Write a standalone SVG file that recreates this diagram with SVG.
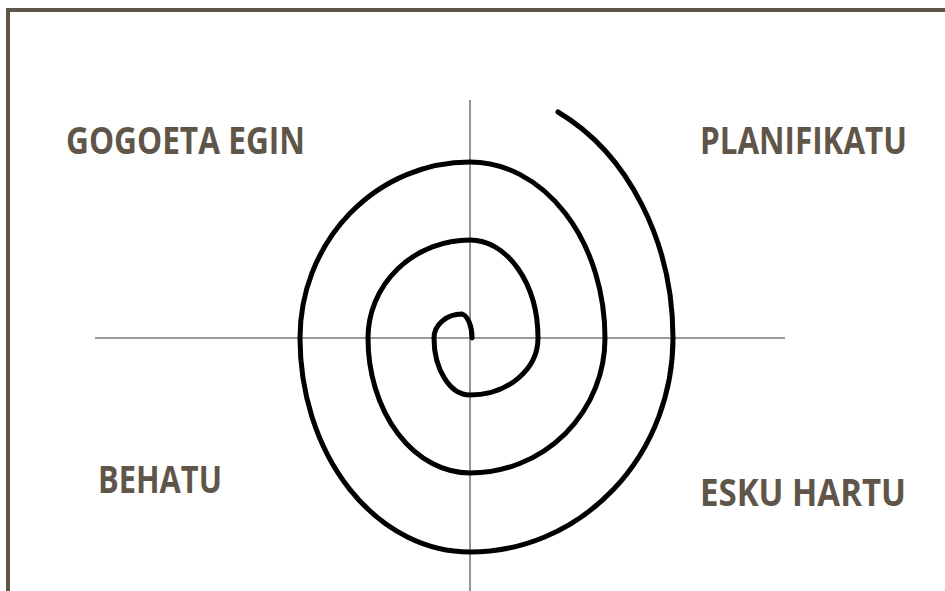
<svg xmlns="http://www.w3.org/2000/svg" width="945" height="591" viewBox="0 0 945 591">
<style>
.lbl{font-family:"Open Sans","Liberation Sans",sans-serif;font-weight:700;font-size:37px;fill:#5f5548}
.axis{stroke:#7a7a7a;stroke-width:1.6;fill:none}
.spiral{stroke:#000;stroke-width:5;fill:none;stroke-linecap:round}
</style>
<rect width="945" height="591" fill="#fff"/>
<g id="frame" fill="#5f5548">
<rect x="6" y="8" width="939" height="4"/>
<rect x="6" y="8" width="4" height="583"/>
</g>
<g id="connectors">
<line class="axis" x1="95" y1="338" x2="785" y2="338"/>
<line class="axis" x1="470" y1="100" x2="470" y2="591"/>
<path class="spiral" d="M472,338 A12,24 0 0 0 462,314 A28,24 0 0 0 434,338 A36,57 0 0 0 470,395 A68,57 0 0 0 538,338 A68,98 0 0 0 470,240 A102,98 0 0 0 368,338 A102,135 0 0 0 470,473 A135,135 0 0 0 605,338 A135,176 0 0 0 470,162 A170,176 0 0 0 300,338 A170,214 0 0 0 470,552 A203,214 0 0 0 673,338 A203,251 0 0 0 558,112"/>
</g>
<g id="node-gogoeta"><text class="lbl" x="66" y="154" textLength="239" lengthAdjust="spacingAndGlyphs">GOGOETA EGIN</text></g>
<g id="node-planifikatu"><text class="lbl" x="700" y="154" textLength="207" lengthAdjust="spacingAndGlyphs">PLANIFIKATU</text></g>
<g id="node-behatu"><text class="lbl" x="98" y="493" textLength="124" lengthAdjust="spacingAndGlyphs">BEHATU</text></g>
<g id="node-esku"><text class="lbl" x="700" y="506" textLength="206" lengthAdjust="spacingAndGlyphs">ESKU HARTU</text></g>
</svg>
